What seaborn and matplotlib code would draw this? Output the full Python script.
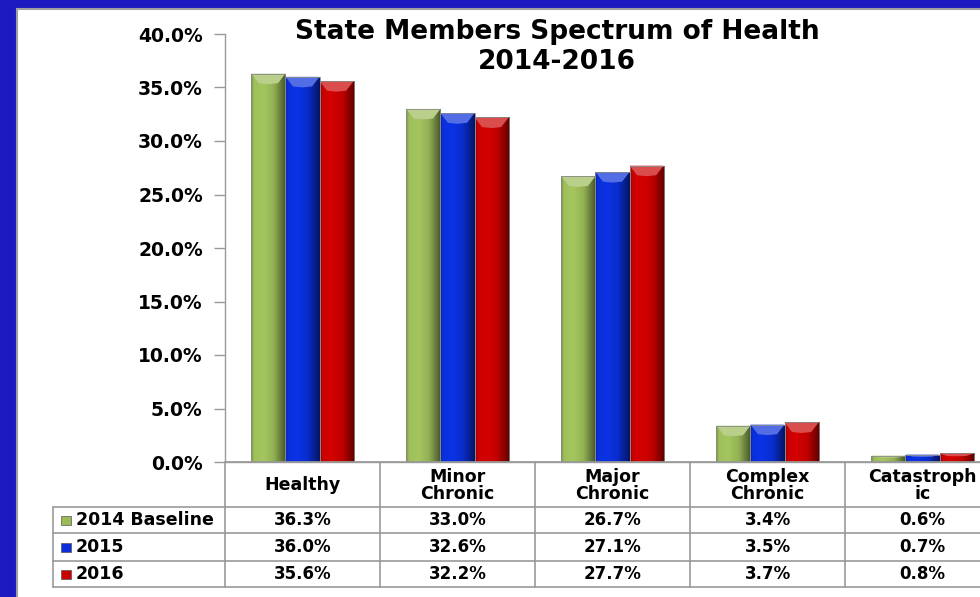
import numpy as np
import pandas as pd
import matplotlib
matplotlib.use("Agg")
import matplotlib.pyplot as plt
import matplotlib.colors as mcolors
from matplotlib.patches import Rectangle, Polygon
from matplotlib.ticker import FuncFormatter
import seaborn as sns

# ---- data ----
categories = ["Healthy", "Minor\nChronic", "Major\nChronic", "Complex\nChronic", "Catastroph\nic"]
series_names = ["2014 Baseline", "2015", "2016"]
values_2014 = [36.3, 33.0, 26.7, 3.4, 0.6]
values_2015 = [36.0, 32.6, 27.1, 3.5, 0.7]
values_2016 = [35.6, 32.2, 27.7, 3.7, 0.8]
colors = ["#9bbb59", "#0a2fd8", "#c80000"]
y_ticks = [0, 5, 10, 15, 20, 25, 30, 35, 40]

series_values = [values_2014, values_2015, values_2016]
df = pd.DataFrame(
    [(c, s, v) for s, vals in zip(series_names, series_values) for c, v in zip(categories, vals)],
    columns=["category", "series", "value"],
)

sns.set_theme(style="white")
plt.rcParams["font.family"] = ["DejaVu Sans"]
plt.rcParams["font.weight"] = "bold"

W, H = 980, 597
fig = plt.figure(figsize=(W / 100, H / 100), dpi=100)
fig.patch.set_facecolor("#1a1ac0")


def fx(px):
    return px / W


def fy(py):
    return 1 - py / H


# white panel
fig.patches.append(Rectangle((fx(17), fy(H + 20)), fx(W + 40), (H + 20 - 9) / H,
                             transform=fig.transFigure, facecolor="white",
                             edgecolor="#a0a0a0", linewidth=1.5, zorder=-5))

# ---- plot area ----
x_left, x_right = 225, 1000
y_top, y_bottom = 34, 462
ax = fig.add_axes([fx(x_left), fy(y_bottom), fx(x_right - x_left), (y_bottom - y_top) / H])
ax.set_facecolor("none")
ax.set_zorder(2)

sns.barplot(data=df, x="category", y="value", hue="series", palette=colors,
            width=0.66, saturation=1, ax=ax, legend=False, linewidth=0)

ax.set_ylim(0, 40)
ax.set_xlim(-0.5, len(categories) - 0.5)
ax.set_yticks(y_ticks)
ax.yaxis.set_major_formatter(FuncFormatter(lambda v, _: f"{v:.1f}%"))
ax.tick_params(axis="y", which="major", left=True, length=8, width=1, color="#999999",
               labelsize=13.5, labelcolor="black", pad=8)
ax.set_xticks([])
ax.set_xlabel("")
ax.set_ylabel("")
for lbl in ax.get_yticklabels():
    lbl.set_fontweight("bold")
for side in ["top", "right"]:
    ax.spines[side].set_visible(False)
for side in ["left", "bottom"]:
    ax.spines[side].set_color("#999999")
    ax.spines[side].set_linewidth(1)

# cylindrical shading on each bar
profile_t = np.linspace(0, 1, 64)
profile = np.interp(profile_t, [0, 0.08, 0.35, 0.65, 0.9, 1.0], [0.78, 1.02, 1.06, 0.95, 0.6, 0.45])
bars = [p for p in ax.patches if p.get_height() > 0]
for bar in bars:
    base = np.array(mcolors.to_rgb(bar.get_facecolor()))
    grad = np.clip(profile[None, :, None] * base[None, None, :], 0, 1)
    x0, y0 = bar.get_x(), bar.get_y()
    w, h = bar.get_width(), bar.get_height()
    im = ax.imshow(grad, extent=(x0, x0 + w, y0, y0 + h), aspect="auto",
                   origin="lower", zorder=bar.get_zorder() + 0.1, interpolation="bilinear")
    im.set_clip_path(bar)
    # light chevron cap at the top of the bar
    cap = min(0.9, h * 0.3)
    light = np.clip(base + (1 - base) * 0.3, 0, 1)
    ax.add_patch(Polygon([(x0, y0 + h), (x0 + w, y0 + h), (x0 + w * 0.78, y0 + h - cap),
                          (x0 + w * 0.5, y0 + h - cap * 1.1), (x0 + w * 0.22, y0 + h - cap)],
                         closed=True, facecolor=light, edgecolor="none",
                         zorder=bar.get_zorder() + 0.2))
    ax.add_patch(Rectangle((x0, y0), w, h, facecolor="none", edgecolor="#8a8a8a",
                           linewidth=0.6, zorder=bar.get_zorder() + 0.3))
ax.set_xlim(-0.5, len(categories) - 0.5)
ax.set_ylim(0, 40)

# ---- title ----
fig.text(fx(557), fy(32), "State Members Spectrum of Health", ha="center", va="center",
         fontsize=19, fontweight="bold", color="black", zorder=3)
fig.text(fx(557), fy(62), "2014-2016", ha="center", va="center",
         fontsize=19, fontweight="bold", color="black", zorder=3)

# ---- data table ----
grid_color = "#999999"
col_edges = [225 + 155 * i for i in range(len(categories) + 1)]
row_edges = [462, 507, 533, 561, 587]
table_left = 53


def hline(py, xa, xb):
    fig.add_artist(plt.Line2D([fx(xa), fx(xb)], [fy(py), fy(py)], color=grid_color,
                              linewidth=1.2, transform=fig.transFigure, zorder=3))


def vline(px, ya, yb):
    fig.add_artist(plt.Line2D([fx(px), fx(px)], [fy(ya), fy(yb)], color=grid_color,
                              linewidth=1.2, transform=fig.transFigure, zorder=3))


hline(row_edges[0], col_edges[0], col_edges[-1])
for py in row_edges[1:]:
    hline(py, table_left, col_edges[-1])
vline(table_left, row_edges[1], row_edges[-1])
vline(col_edges[0], row_edges[0], row_edges[-1])
for px in col_edges[1:-1]:
    vline(px, row_edges[0], row_edges[-1])

# column headers
for i, cat in enumerate(categories):
    cx = (col_edges[i] + col_edges[i + 1]) / 2
    cy = (row_edges[0] + row_edges[1]) / 2 + 1
    fig.text(fx(cx), fy(cy), cat, ha="center", va="center", fontsize=12.5,
             fontweight="bold", linespacing=0.95, color="black", zorder=3)

# rows: legend key, series name, values
for r, (name, vals, col) in enumerate(zip(series_names, series_values, colors)):
    cy = (row_edges[r + 1] + row_edges[r + 2]) / 2
    fig.patches.append(Rectangle((fx(61), fy(cy + 4.5)), fx(10), 9 / H,
                                 transform=fig.transFigure, facecolor=col,
                                 edgecolor="#555555", linewidth=0.5, zorder=3))
    fig.text(fx(76), fy(cy), name, ha="left", va="center", fontsize=12.5,
             fontweight="bold", color="black", zorder=3)
    for i, v in enumerate(vals):
        cx = (col_edges[i] + col_edges[i + 1]) / 2
        fig.text(fx(cx), fy(cy), f"{v:.1f}%", ha="center", va="center", fontsize=12,
                 fontweight="bold", color="black", zorder=3)

fig.savefig("out.png", dpi=100)
